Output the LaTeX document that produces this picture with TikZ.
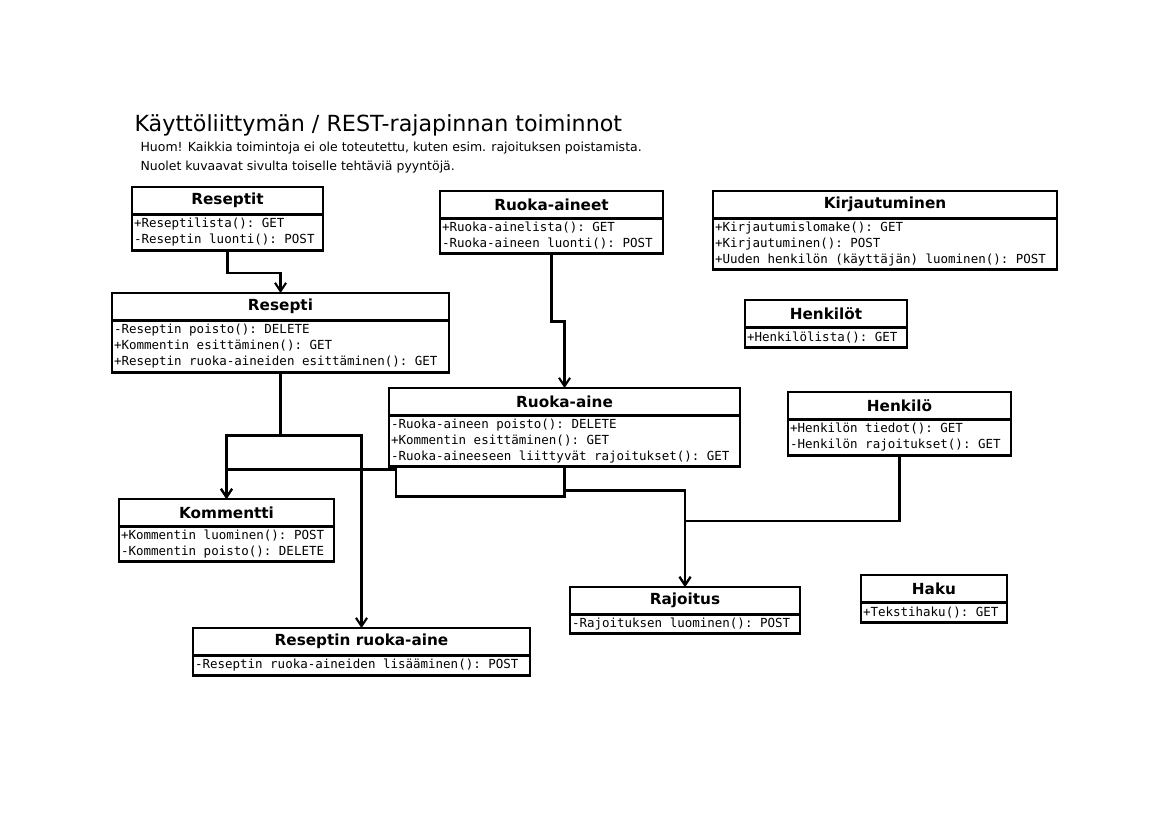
\documentclass[tikz,border=0pt]{standalone}
\usepackage{fontspec}
\setmainfont{DejaVu Sans}
\setmonofont{DejaVu Sans Mono}
\usetikzlibrary{arrows.meta}
\newcommand{\upx}{0.7203pt}
\newcommand{\memfont}{\fontsize{9}{11.52}\ttfamily}

\begin{document}
\begin{tikzpicture}[x = \upx, y = -\upx, line width = 1.5pt,
                      head/.style = {draw, anchor = north west, inner sep = 0pt, outer sep = 0pt,
                                     minimum height = 27.5*\upx,
                                     font = \fontsize{11}{13}\selectfont\bfseries},
                      body/.style = {draw, anchor = north west, inner xsep = 2*\upx, inner ysep = 0pt,
                                     outer sep = 0pt, align = flush left, font = \memfont},
                      arr/.style = {-{Straight Barb[length = 6pt, width = 8pt]}}]
    \useasboundingbox (0, 0) rectangle (1169, 826);

    \node [anchor = base west, inner sep = 0pt, font = \fontsize{16}{19}\selectfont] (title) at (133.5, 131)
        {Käyttöliittymän / REST-rajapinnan toiminnot};
    \node [anchor = base west, inner sep = 0pt, font = \fontsize{9}{11}\selectfont] (note1) at (139.5, 151.7)
        {Huom! Kaikkia toimintoja ei ole toteutettu, kuten esim. rajoituksen poistamista.};
    \node [anchor = base west, inner sep = 0pt, font = \fontsize{9}{11}\selectfont] (note2) at (139.5, 170)
        {Nuolet kuvaavat sivulta toiselle tehtäviä pyyntöjä.};

    \node [head, minimum width = 191*\upx] (reseptit) at (132, 187){Reseptit};
    \node [body, text width = 187*\upx, minimum height = 36*\upx] (reseptit-m) at (reseptit.south west)
        {+Reseptilista(): GET\\-Reseptin luonti(): POST};

    \node [head, minimum width = 337*\upx] (resepti) at (112, 293){Resepti};
    \node [body, text width = 333*\upx, minimum height = 52*\upx] (resepti-m) at (resepti.south west)
        {-Reseptin poisto(): DELETE\\+Kommentin esittäminen(): GET\\+Reseptin ruoka-aineiden esittäminen(): GET};

    \node [head, minimum width = 223*\upx] (aineet) at (440, 191){Ruoka-aineet};
    \node [body, text width = 219*\upx, minimum height = 35*\upx] (aineet-m) at (aineet.south west)
        {+Ruoka-ainelista(): GET\\-Ruoka-aineen luonti(): POST};

    \node [head, minimum width = 344*\upx] (kirjautuminen) at (713, 191){Kirjautuminen};
    \node [body, text width = 340*\upx, minimum height = 51*\upx] (kirjautuminen-m) at (kirjautuminen.south west)
        {+Kirjautumislomake(): GET\\+Kirjautuminen(): POST\\+Uuden henkilön (käyttäjän) luominen(): POST};

    \node [head, minimum width = 162*\upx] (henkilot) at (745, 300){Henkilöt};
    \node [body, text width = 158*\upx, minimum height = 20*\upx] (henkilot-m) at (henkilot.south west)
        {+Henkilölista(): GET};

    \node [head, minimum width = 351*\upx] (aine) at (389, 388){Ruoka-aine};
    \node [body, text width = 347*\upx, minimum height = 51*\upx] (aine-m) at (aine.south west)
        {-Ruoka-aineen poisto(): DELETE\\+Kommentin esittäminen(): GET\\-Ruoka-aineeseen liittyvät rajoitukset(): GET};

    \node [head, minimum width = 223*\upx] (henkilo) at (788, 392){Henkilö};
    \node [body, text width = 219*\upx, minimum height = 36*\upx] (henkilo-m) at (henkilo.south west)
        {+Henkilön tiedot(): GET\\-Henkilön rajoitukset(): GET};

    \node [head, minimum width = 215*\upx] (kommentti) at (119, 499){Kommentti};
    \node [body, text width = 211*\upx, minimum height = 35*\upx] (kommentti-m) at (kommentti.south west)
        {+Kommentin luominen(): POST\\-Kommentin poisto(): DELETE};

    \node [head, minimum width = 230*\upx] (rajoitus) at (570, 587){Rajoitus};
    \node [body, text width = 226*\upx, minimum height = 19*\upx] (rajoitus-m) at (rajoitus.south west)
        {-Rajoituksen luominen(): POST};

    \node [head, minimum width = 146*\upx] (haku) at (861, 575){Haku};
    \node [body, text width = 142*\upx, minimum height = 20*\upx] (haku-m) at (haku.south west)
        {+Tekstihaku(): GET};

    \node [head, minimum width = 337*\upx] (rra) at (193, 628){Reseptin ruoka-aine};
    \node [body, text width = 333*\upx, minimum height = 20*\upx] (rra-m) at (rra.south west)
        {-Reseptin ruoka-aineiden lisääminen(): POST};

    \draw [arr] (reseptit-m.south) -- ++(0, 22.5) -| (resepti.north);
    \draw [arr] (aineet-m.south) -- ++(0, 68) -| (aine.north);
    \draw [arr] (resepti-m.south) -- ++(0, 63) -| (kommentti.north);
    \draw [arr] (resepti-m.south) -- ++(0, 63) -| (rra.north);
    \draw [arr] (aine-m.south) -- ++(0, 30) -| ++(-168.5, -27) -| (kommentti.north);
    \draw [arr] (aine-m.south) -- ++(0, 24) -| (rajoitus.north);
    \draw [arr] (henkilo-m.south) -- ++(0, 65.5) -| (rajoitus.north);
    \end{tikzpicture}
\end{document}
